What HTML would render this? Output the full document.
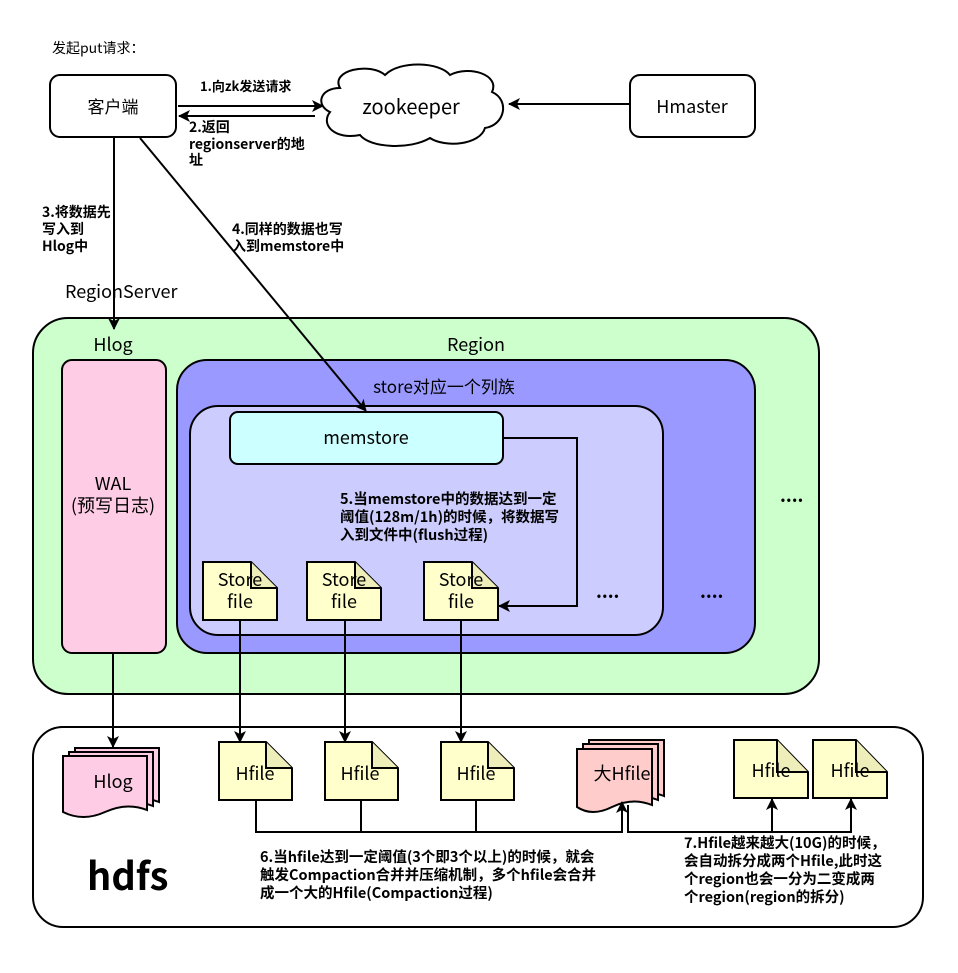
<!DOCTYPE html>
<html><head><meta charset="utf-8"><style>
body{margin:0;background:#fff}
svg text{font-family:"Noto Sans CJK SC","Liberation Sans",sans-serif}
.b{font-weight:bold;font-size:14px}
.c{font-weight:bold;font-size:14.5px}
</style></head><body>
<svg width="958" height="968" viewBox="0 0 958 968" xmlns="http://www.w3.org/2000/svg">
<defs>
<marker id="a" markerWidth="12" markerHeight="12" refX="11" refY="6" orient="auto" markerUnits="userSpaceOnUse"><path d="M0,0 L12,6 L0,12 L3,6 z" fill="#000"/></marker>
</defs>
<g stroke="#000" stroke-width="2" fill="none">
<rect x="50" y="75" width="126" height="62" rx="10" fill="#fff"/>
<path d="M340,88 C330,70 370,62 385,75 C400,60 440,62 450,75 C470,65 500,75 492,92 C510,100 505,125 485,128 C480,145 445,148 430,138 C410,150 370,148 360,135 C335,140 320,125 330,112 C315,105 320,88 340,88 z" fill="#fff"/>
<rect x="630" y="75" width="125" height="62" rx="10" fill="#fff"/>
<line x1="178" y1="106" x2="323" y2="106" marker-end="url(#a)"/>
<line x1="315" y1="116" x2="179" y2="116" marker-end="url(#a)"/>
<line x1="630" y1="104" x2="509" y2="104" marker-end="url(#a)"/>
<rect x="33" y="318" width="786" height="376" rx="35" fill="#ccffcc"/>
<rect x="62" y="360" width="104" height="293" rx="10" fill="#ffcce6"/>
<rect x="177" y="360" width="578" height="293" rx="30" fill="#9999ff"/>
<rect x="190" y="406" width="473" height="229" rx="28" fill="#ccccff"/>
<rect x="230" y="412" width="273" height="52" rx="8" fill="#ccffff"/>
<line x1="114" y1="137" x2="114" y2="329" marker-end="url(#a)"/>
<line x1="140" y1="138" x2="366" y2="411" marker-end="url(#a)"/>
<polyline points="503,438 577,438 577,606 499,606" marker-end="url(#a)"/>
<g fill="#ffffcc">
<path d="M203,562 h48 l26,26 v32 h-74 z"/><path d="M251,562 v26 h26" fill="#eeeebb"/>
<path d="M307,562 h48 l26,26 v32 h-74 z"/><path d="M355,562 v26 h26" fill="#eeeebb"/>
<path d="M424,562 h48 l26,26 v32 h-74 z"/><path d="M472,562 v26 h26" fill="#eeeebb"/>
</g>
<rect x="33" y="727" width="890" height="200" rx="30" fill="#fff"/>
<line x1="113" y1="653" x2="113" y2="747" marker-end="url(#a)"/>
<line x1="240" y1="620" x2="240" y2="742" marker-end="url(#a)"/>
<line x1="345" y1="620" x2="345" y2="742" marker-end="url(#a)"/>
<line x1="461" y1="620" x2="461" y2="742" marker-end="url(#a)"/>
<g fill="#ffcce6">
<path d="M75,748 h84 v54 q-20,-8 -42,2 t-42,0 z"/>
<path d="M69,752 h84 v54 q-20,-8 -42,2 t-42,0 z"/>
<path d="M63,756 h84 v54 q-20,-8 -42,2 t-42,0 z"/>
</g>
<g fill="#ffcccc">
<path d="M589,740 h75 v56 q-20,-8 -40,2 t-35,0 z"/>
<path d="M583,744 h75 v56 q-20,-8 -40,2 t-35,0 z"/>
<path d="M577,749 h75 v56 q-20,-8 -40,2 t-35,0 z"/>
</g>
<g fill="#ffffcc">
<path d="M219,742 h47 l26,26 v32 h-73 z"/><path d="M266,742 v26 h26" fill="#eeeebb"/>
<path d="M325,742 h47 l26,26 v32 h-73 z"/><path d="M372,742 v26 h26" fill="#eeeebb"/>
<path d="M441,742 h47 l26,26 v32 h-73 z"/><path d="M488,742 v26 h26" fill="#eeeebb"/>
<path d="M734,740 h43 l31,32 v26 h-74 z"/><path d="M777,740 v32 h31" fill="#eeeebb"/>
<path d="M813,740 h43 l31,32 v26 h-74 z"/><path d="M856,740 v32 h31" fill="#eeeebb"/>
</g>
<polyline points="256,800 256,832 622,832 622,802" marker-end="url(#a)"/>
<line x1="361" y1="800" x2="361" y2="832"/>
<line x1="476" y1="800" x2="476" y2="832"/>
<polyline points="628,805 628,832 851,832 851,799" marker-end="url(#a)"/>
<line x1="772" y1="832" x2="772" y2="799" marker-end="url(#a)"/>
</g>
<g fill="#000">
<text x="52" y="53" font-size="14">发起put请求：</text>
<text x="113" y="113" font-size="17" text-anchor="middle">客户端</text>
<text x="411" y="114" font-size="20" text-anchor="middle">zookeeper</text>
<text x="692" y="113" font-size="18" text-anchor="middle">Hmaster</text>
<text class="b" x="200" y="91" font-size="13" style="font-size:13px">1.向zk发送请求</text>
<text class="b" x="189" y="132">2.返回</text>
<text class="b" x="189" y="149">regionserver的地</text>
<text class="b" x="189" y="165">址</text>
<text class="b" x="42" y="217">3.将数据先</text>
<text class="b" x="42" y="234">写入到</text>
<text class="b" x="42" y="251">Hlog中</text>
<text class="b" x="232" y="234">4.同样的数据也写</text>
<text class="b" x="232" y="251">入到memstore中</text>
<text x="65" y="298" font-size="18">RegionServer</text>
<text x="113" y="351" font-size="18" text-anchor="middle">Hlog</text>
<text x="476" y="351" font-size="18" text-anchor="middle">Region</text>
<text x="113" y="490" font-size="18" text-anchor="middle">WAL</text>
<text x="113" y="512" font-size="18" text-anchor="middle">(预写日志)</text>
<text x="444" y="393" font-size="17" text-anchor="middle">store对应一个列族</text>
<text x="366" y="444" font-size="18" text-anchor="middle">memstore</text>
<text class="c" x="340" y="504">5.当memstore中的数据达到一定</text>
<text class="c" x="340" y="522">阈值(128m/1h)的时候，将数据写</text>
<text class="c" x="340" y="540">入到文件中(flush过程)</text>
<g font-size="18" text-anchor="middle">
<text x="240" y="586">Store</text><text x="240" y="608">file</text>
<text x="344" y="586">Store</text><text x="344" y="608">file</text>
<text x="461" y="586">Store</text><text x="461" y="608">file</text>
<text x="113" y="788">Hlog</text>
<text x="255" y="780">Hfile</text>
<text x="360" y="780">Hfile</text>
<text x="476" y="780">Hfile</text>
<text x="622" y="780">大Hfile</text>
<text x="771" y="777">Hfile</text>
<text x="850" y="777">Hfile</text>
</g>
<g font-size="18" font-weight="bold">
<text x="596" y="598">....</text><text x="700" y="598">....</text><text x="780" y="502">....</text>
</g>
<text x="87" y="890" font-size="38" font-weight="bold">hdfs</text>
<text class="c" x="260" y="862">6.当hfile达到一定阈值(3个即3个以上)的时候，就会</text>
<text class="c" x="260" y="880">触发Compaction合并并压缩机制，多个hfile会合并</text>
<text class="c" x="260" y="898">成一个大的Hfile(Compaction过程)</text>
<text class="c" x="684" y="848">7.Hfile越来越大(10G)的时候，</text>
<text class="c" x="684" y="866">会自动拆分成两个Hfile,此时这</text>
<text class="c" x="684" y="884">个region也会一分为二变成两</text>
<text class="c" x="684" y="902">个region(region的拆分)</text>
</g>
</svg>
</body></html>
